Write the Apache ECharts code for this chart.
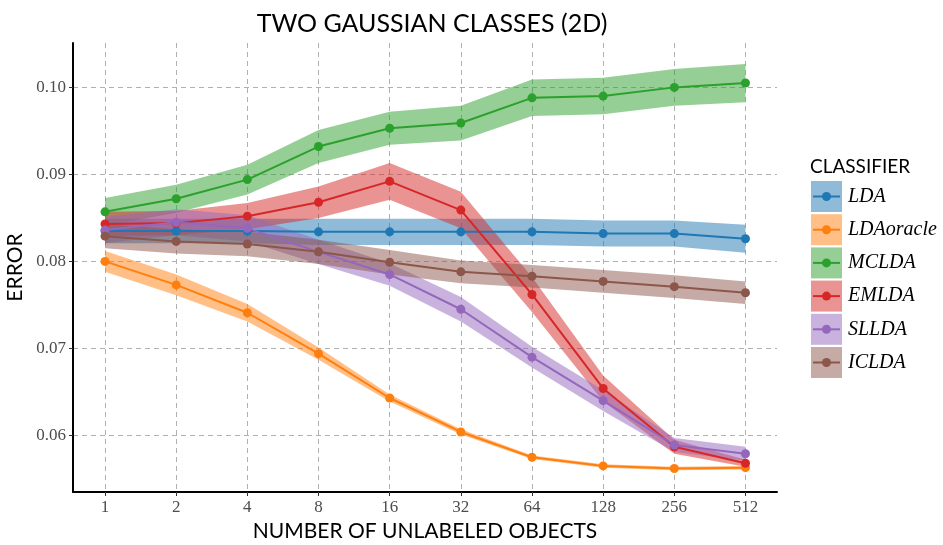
<!DOCTYPE html>
<html><head><meta charset="utf-8">
<script src="https://cdn.jsdelivr.net/npm/echarts@6/dist/echarts.min.js"></script>
<style>html,body{margin:0;padding:0;background:#fff}#c{width:943px;height:545px}</style>
</head><body><div id="c"></div>
<script>
const xLabels = ['1','2','4','8','16','32','64','128','256','512'];
const yTicks = [0.06, 0.07, 0.08, 0.09, 0.10];
const classifiers = ['LDA','LDAoracle','MCLDA','EMLDA','SLLDA','ICLDA'];
const colors = ['#1f77b4','#ff7f0e','#2ca02c','#d62728','#9467bd','#8c564b'];

const meanLDA = [0.0835,0.0835,0.0835,0.0834,0.0834,0.0834,0.0834,0.0832,0.0832,0.0826];
const halfLDA = [0.0014,0.0014,0.0014,0.0015,0.0015,0.0015,0.0015,0.0015,0.0015,0.0016];
const meanLDAoracle = [0.0800,0.0773,0.0741,0.0694,0.0643,0.0604,0.0575,0.0565,0.0562,0.0563];
const halfLDAoracle = [0.0012,0.0012,0.0010,0.0007,0.0004,0.0003,0.0002,0.0002,0.0002,0.0002];
const meanMCLDA = [0.0857,0.0872,0.0894,0.0932,0.0953,0.0959,0.0988,0.0990,0.1000,0.1005];
const halfMCLDA = [0.0016,0.0016,0.0017,0.0019,0.0019,0.0020,0.0021,0.0021,0.0021,0.0022];
const meanEMLDA = [0.0843,0.0844,0.0852,0.0868,0.0892,0.0859,0.0762,0.0654,0.0587,0.0568];
const halfEMLDA = [0.0014,0.0014,0.0015,0.0018,0.0021,0.0021,0.0020,0.0015,0.0008,0.0004];
const meanSLLDA = [0.0836,0.0845,0.0838,0.0811,0.0785,0.0745,0.0690,0.0640,0.0589,0.0579];
const halfSLLDA = [0.0015,0.0015,0.0015,0.0014,0.0013,0.0014,0.0012,0.0012,0.0008,0.0008];
const meanICLDA = [0.0829,0.0823,0.0820,0.0811,0.0799,0.0788,0.0783,0.0777,0.0771,0.0764];
const halfICLDA = [0.0014,0.0014,0.0014,0.0014,0.0014,0.0013,0.0013,0.0013,0.0013,0.0013];

const means = [meanLDA, meanLDAoracle, meanMCLDA, meanEMLDA, meanSLLDA, meanICLDA];
const halves = [halfLDA, halfLDAoracle, halfMCLDA, halfEMLDA, halfSLLDA, halfICLDA];

function rgba(hex, a) {
  const n = parseInt(hex.slice(1), 16);
  return 'rgba(' + ((n >> 16) & 255) + ',' + ((n >> 8) & 255) + ',' + (n & 255) + ',' + a + ')';
}

const xIdx = xLabels.map((_, k) => k);
const series = [];
classifiers.forEach((name, i) => {
  series.push({
    type: 'custom', name: name + '_band', silent: true, z: 1 + i * 0.01,
    data: [[0, means[i][0]]],
    renderItem: (params, api) => {
      const pts = [];
      for (let k = 0; k < xIdx.length; k++) pts.push(api.coord([xIdx[k], means[i][k] + halves[i][k]]));
      for (let k = xIdx.length - 1; k >= 0; k--) pts.push(api.coord([xIdx[k], means[i][k] - halves[i][k]]));
      return { type: 'polygon', shape: { points: pts }, style: { fill: rgba(colors[i], 0.5) } };
    }
  });
});
classifiers.forEach((name, i) => {
  series.push({
    type: 'line', name: name, z: 3,
    data: xIdx.map(k => [k, means[i][k]]),
    symbol: 'circle', symbolSize: 9, showSymbol: true,
    lineStyle: { color: colors[i], width: 2 },
    itemStyle: { color: colors[i] }
  });
});

// legend via graphic
const legendLeft = 811, legendTop = 181, step = 33.2, box = 31;
const graphics = [{
  type: 'text', left: 810, top: 157,
  style: { text: 'CLASSIFIER', font: '19px Lato', fill: '#000' }
}];
classifiers.forEach((name, i) => {
  const y = legendTop + i * step;
  graphics.push({ type: 'rect', shape: { x: legendLeft, y: y, width: box, height: box }, style: { fill: rgba(colors[i], 0.5) } });
  graphics.push({ type: 'line', shape: { x1: legendLeft + 2, y1: y + box / 2, x2: legendLeft + box - 2, y2: y + box / 2 }, style: { stroke: colors[i], lineWidth: 2 } });
  graphics.push({ type: 'circle', shape: { cx: legendLeft + box / 2, cy: y + box / 2, r: 4.5 }, style: { fill: colors[i] } });
  graphics.push({ type: 'text', x: 848, y: y + box / 2, style: { text: name, font: 'italic 20px "Liberation Serif"', fill: '#000', verticalAlign: 'middle' } });
});

const chart = echarts.init(document.getElementById('c'), null, { renderer: 'canvas' });
chart.setOption({
  animation: false,
  backgroundColor: '#fff',
  title: {
    text: 'TWO GAUSSIAN CLASSES (2D)', left: 427, top: 6, textAlign: 'center',
    textStyle: { fontFamily: 'Lato', fontSize: 25, fontWeight: 'normal', color: '#000' }
  },
  grid: { left: 73, top: 43, right: 166, bottom: 53, containLabel: false, outerBoundsMode: 'none' },
  xAxis: {
    type: 'value', min: -0.45, max: 9.443,
    name: 'NUMBER OF UNLABELED OBJECTS', nameLocation: 'middle', nameGap: 29,
    nameTextStyle: { fontFamily: 'Lato', fontSize: 21, color: '#000' },
    axisLine: { show: true, onZero: false, lineStyle: { color: '#000', width: 2 } },
    axisTick: { show: true, length: 4, customValues: xIdx, lineStyle: { color: '#333' } },
    axisLabel: { customValues: xIdx, formatter: v => xLabels[Math.round(v)], fontFamily: 'Liberation Serif', fontSize: 17, color: '#4d4d4d', margin: 7 },
    splitLine: { show: true, lineStyle: { color: '#b0b0b0', type: [5, 4], width: 1 } }
  },
  yAxis: {
    type: 'value', min: 0.0535, max: 0.1051,
    name: 'ERROR', nameLocation: 'middle', nameGap: 46,
    nameTextStyle: { fontFamily: 'Lato', fontSize: 21, color: '#000' },
    axisLine: { show: true, onZero: false, lineStyle: { color: '#000', width: 2 } },
    axisTick: { show: true, length: 4, customValues: yTicks, lineStyle: { color: '#333' } },
    axisLabel: { customValues: yTicks, formatter: v => v.toFixed(2), fontFamily: 'Liberation Serif', fontSize: 17, color: '#4d4d4d', margin: 7 },
    splitLine: { show: true, lineStyle: { color: '#b0b0b0', type: [5, 4], width: 1 } }
  },
  series: series,
  graphic: graphics
});
</script>
</body></html>
